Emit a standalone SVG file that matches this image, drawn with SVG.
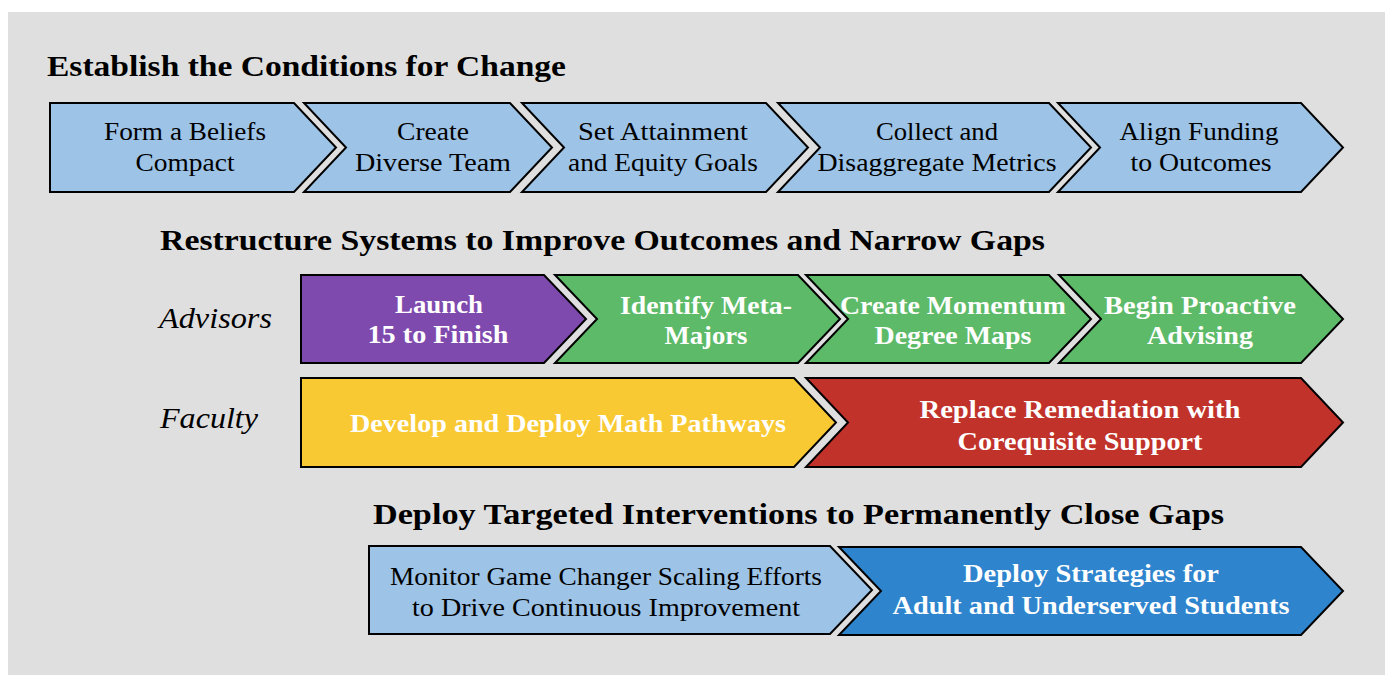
<svg xmlns="http://www.w3.org/2000/svg" width="1387" height="675" viewBox="0 0 1387 675">
<style>
.bg{fill:#dfdfdf}
.n{stroke:#000;stroke-width:2;stroke-linejoin:miter}
.lb{fill:#9dc3e6}
.pu{fill:#7f4aae}
.gr{fill:#5dba68}
.ye{fill:#f8c932}
.re{fill:#c0322a}
.bl{fill:#2e84cd}
text{font-family:"Liberation Serif","DejaVu Serif",serif}
.h{font-size:29px;font-weight:bold;fill:#000}
.t{font-size:26px;fill:#000;text-anchor:middle}
.w{font-size:26px;font-weight:bold;fill:#fff;text-anchor:middle}
.i{font-size:29px;font-style:italic;fill:#000}
</style>
<rect class="bg" x="8" y="12" width="1377" height="663"/>

<g id="headings">
<text class="h" x="47" y="76" textLength="519" lengthAdjust="spacingAndGlyphs">Establish the Conditions for Change</text>
<text class="h" x="160" y="250" textLength="885" lengthAdjust="spacingAndGlyphs">Restructure Systems to Improve Outcomes and Narrow Gaps</text>
<text class="h" x="373" y="524" textLength="851" lengthAdjust="spacingAndGlyphs">Deploy Targeted Interventions to Permanently Close Gaps</text>
</g>

<g id="lane-labels">
<text class="i" x="159" y="328" textLength="113" lengthAdjust="spacingAndGlyphs">Advisors</text>
<text class="i" x="160" y="428" textLength="98" lengthAdjust="spacingAndGlyphs">Faculty</text>
</g>

<g id="beliefs">
<polygon class="n lb" points="50,103 294,103 336,147.5 294,192 50,192"/>
<text class="t" x="185" y="140" textLength="162" lengthAdjust="spacingAndGlyphs">Form a Beliefs</text>
<text class="t" x="185" y="171" textLength="99" lengthAdjust="spacingAndGlyphs">Compact</text>
</g>
<g id="team">
<polygon class="n lb" points="304,103 510,103 552,147.5 510,192 304,192 346,147.5"/>
<text class="t" x="433" y="140" textLength="72" lengthAdjust="spacingAndGlyphs">Create</text>
<text class="t" x="433" y="171" textLength="156" lengthAdjust="spacingAndGlyphs">Diverse Team</text>
</g>
<g id="goals">
<polygon class="n lb" points="522,103 766,103 808,147.5 766,192 522,192 564,147.5"/>
<text class="t" x="663" y="140" textLength="170" lengthAdjust="spacingAndGlyphs">Set Attainment</text>
<text class="t" x="663" y="171" textLength="190" lengthAdjust="spacingAndGlyphs">and Equity Goals</text>
</g>
<g id="metrics">
<polygon class="n lb" points="778,103 1049,103 1091,147.5 1049,192 778,192 820,147.5"/>
<text class="t" x="937" y="140" textLength="122" lengthAdjust="spacingAndGlyphs">Collect and</text>
<text class="t" x="937" y="171" textLength="239" lengthAdjust="spacingAndGlyphs">Disaggregate Metrics</text>
</g>
<g id="funding">
<polygon class="n lb" points="1058,103 1301,103 1343,147.5 1301,192 1058,192 1100,147.5"/>
<text class="t" x="1199" y="140" textLength="159" lengthAdjust="spacingAndGlyphs">Align Funding</text>
<text class="t" x="1201" y="171" textLength="141" lengthAdjust="spacingAndGlyphs">to Outcomes</text>
</g>

<g id="launch15">
<polygon class="n pu" points="301,275 544,275 586,319 544,363 301,363"/>
<text class="w" x="439" y="313" textLength="88" lengthAdjust="spacingAndGlyphs">Launch</text>
<text class="w" x="438" y="343" textLength="141" lengthAdjust="spacingAndGlyphs">15 to Finish</text>
</g>
<g id="metamajors">
<polygon class="n gr" points="555,275 798,275 840,319 798,363 555,363 597,319"/>
<text class="w" x="706" y="314" textLength="172" lengthAdjust="spacingAndGlyphs">Identify Meta-</text>
<text class="w" x="706" y="344" textLength="83" lengthAdjust="spacingAndGlyphs">Majors</text>
</g>
<g id="degreemaps">
<polygon class="n gr" points="806,275 1049,275 1091,319 1049,363 806,363 848,319"/>
<text class="w" x="953" y="314" textLength="226" lengthAdjust="spacingAndGlyphs">Create Momentum</text>
<text class="w" x="953" y="344" textLength="157" lengthAdjust="spacingAndGlyphs">Degree Maps</text>
</g>
<g id="advising">
<polygon class="n gr" points="1059,275 1301,275 1343,319 1301,363 1059,363 1101,319"/>
<text class="w" x="1200" y="314" textLength="192" lengthAdjust="spacingAndGlyphs">Begin Proactive</text>
<text class="w" x="1200" y="344" textLength="106" lengthAdjust="spacingAndGlyphs">Advising</text>
</g>

<g id="mathpathways">
<polygon class="n ye" points="301,378 794,378 836,422.5 794,467 301,467"/>
<text class="w" x="568" y="432" textLength="436" lengthAdjust="spacingAndGlyphs">Develop and Deploy Math Pathways</text>
</g>
<g id="corequisite">
<polygon class="n re" points="806,378 1301,378 1343,422.5 1301,467 806,467 848,422.5"/>
<text class="w" x="1080" y="418" textLength="321" lengthAdjust="spacingAndGlyphs">Replace Remediation with</text>
<text class="w" x="1080" y="450" textLength="245" lengthAdjust="spacingAndGlyphs">Corequisite Support</text>
</g>

<g id="monitor">
<polygon class="n lb" points="369,546 830,546 872,590 830,634 369,634"/>
<text class="t" x="606" y="585" font-size="25" textLength="432" lengthAdjust="spacingAndGlyphs">Monitor Game Changer Scaling Efforts</text>
<text class="t" x="606" y="616" font-size="25" textLength="388" lengthAdjust="spacingAndGlyphs">to Drive Continuous Improvement</text>
</g>
<g id="strategies">
<polygon class="n bl" points="839,547 1301,547 1343,591 1301,635 839,635 881,591"/>
<text class="w" x="1091" y="582" textLength="256" lengthAdjust="spacingAndGlyphs">Deploy Strategies for</text>
<text class="w" x="1091" y="614" textLength="397" lengthAdjust="spacingAndGlyphs">Adult and Underserved Students</text>
</g>
</svg>
